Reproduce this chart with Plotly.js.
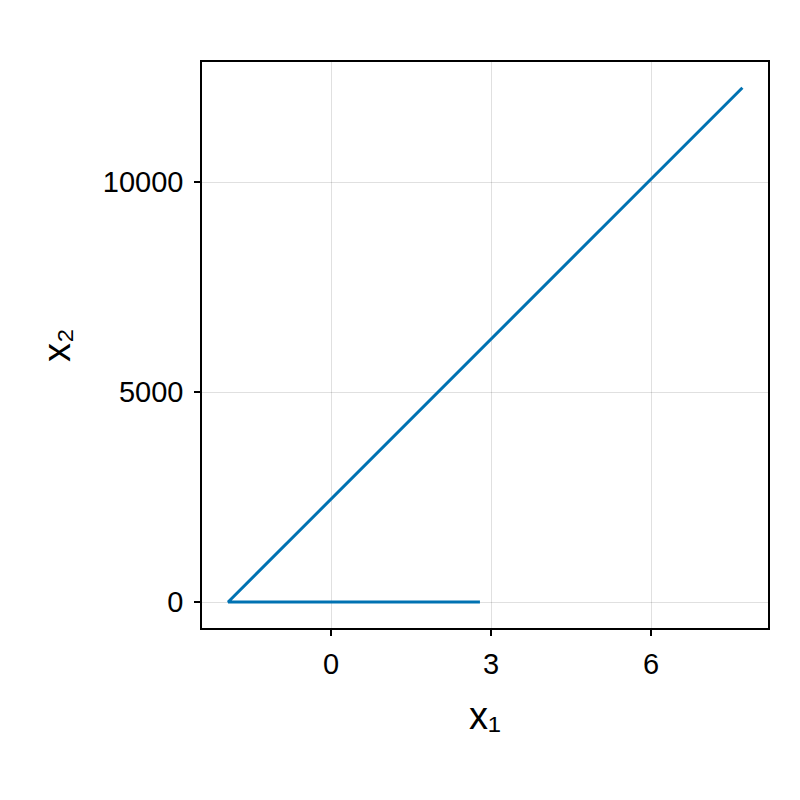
<!DOCTYPE html>
<html>
<head>
<script src="https://cdn.plot.ly/plotly-3.0.1.min.js"></script>
<style>body{margin:0;background:#fff}</style>
</head>
<body>
<div id="chart" style="width:800px;height:800px"></div>
<script>
const x1 = [2.79, -1.93, 7.71];
const x2 = [0, 0, 12245];
const xTicks = [0, 3, 6];
const yTicks = [0, 5000, 10000];

const FONT = 'Liberation Sans, Arial, sans-serif';

function axis(extra) {
  return Object.assign({
    showline: true, mirror: true, linecolor: '#000', linewidth: 1.5,
    ticks: 'outside', ticklen: 6, tickwidth: 1.5, tickcolor: '#000',
    showgrid: true, gridcolor: 'rgba(0,0,0,0.12)', gridwidth: 1,
    zeroline: false,
    tickfont: {family: FONT, size: 29, color: '#000'}
  }, extra);
}

Plotly.newPlot('chart', [{
  x: x1, y: x2, type: 'scatter', mode: 'lines',
  line: {color: '#0072B2', width: 3}
}], {
  width: 800, height: 800,
  margin: {l: 202, r: 32, t: 62, b: 172},
  paper_bgcolor: '#fff', plot_bgcolor: '#fff',
  showlegend: false,
  xaxis: axis({
    range: [-2.42, 8.19], tickvals: xTicks, ticktext: xTicks.map(String),
    ticklabelstandoff: 3,
    title: {text: 'x₁', standoff: 24, font: {family: FONT, size: 38, color: '#000'}}
  }),
  yaxis: axis({
    range: [-619, 12857], tickvals: yTicks, ticktext: yTicks.map(String),
    ticklabelstandoff: 5,
    title: {text: 'x₂', standoff: 20, font: {family: FONT, size: 38, color: '#000'}}
  })
}, {displayModeBar: false});
</script>
</body>
</html>
